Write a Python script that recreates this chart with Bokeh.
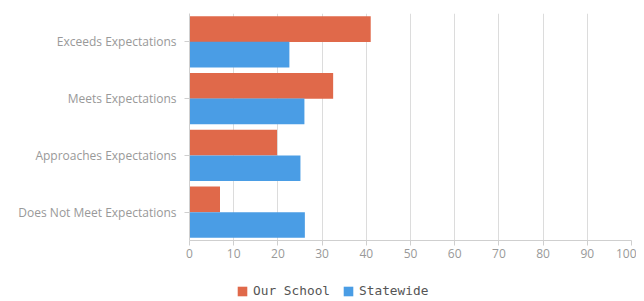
from bokeh.plotting import figure
from bokeh.layouts import column
from bokeh.models import FactorRange, Legend, LegendItem, ColumnDataSource
from bokeh.transform import dodge
from bokeh.embed import file_html
from bokeh.resources import INLINE

categories = ["Exceeds Expectations", "Meets Expectations", "Approaches Expectations", "Does Not Meet Expectations"]
series_names = ["Our School", "Statewide"]
our_school = [41.0, 32.5, 19.8, 6.9]
statewide = [22.6, 26.0, 25.1, 26.1]
x_ticks = [0, 10, 20, 30, 40, 50, 60, 70, 80, 90, 100]
colors = ["#E0694A", "#4A9DE5"]

src = ColumnDataSource(dict(cat=categories, ours=our_school, state=statewide))

p = figure(width=636, height=265, y_range=FactorRange(*list(reversed(categories)), range_padding=0),
           x_range=(0, 100), output_backend="svg", toolbar_location=None,
           min_border_left=189, min_border_right=5, min_border_top=13, min_border_bottom=25)
p.outline_line_color = None

p.hbar(y=dodge("cat", 0.225, range=p.y_range), right="ours", left=0, height=0.45, source=src,
       fill_color=colors[0], line_color=None)
p.hbar(y=dodge("cat", -0.225, range=p.y_range), right="state", left=0, height=0.45, source=src,
       fill_color=colors[1], line_color=None)

p.xaxis.ticker = x_ticks
p.xgrid.grid_line_color = "#dcdcdc"
p.ygrid.grid_line_color = None

for ax in [p.xaxis[0], p.yaxis[0]]:
    ax.axis_line_color = "#cfcfcf"
    ax.major_tick_line_color = "#cfcfcf"
    ax.minor_tick_line_color = None
    ax.major_tick_in = 0
    ax.major_tick_out = 5
    ax.major_label_text_font = "Open Sans"
    ax.major_label_text_font_size = "12px"
    ax.major_label_text_color = "#999999"
p.yaxis.major_label_standoff = 8
p.xaxis.major_label_standoff = 3

# legend strip (proxies share the chart's data, hidden)
lg = figure(width=636, height=33, x_range=(0, 100),
            y_range=FactorRange(*list(reversed(categories))), output_backend="svg",
            toolbar_location=None, min_border=0)
lg.axis.visible = False
lg.grid.visible = False
lg.outline_line_color = None
l1 = lg.hbar(y="cat", right="ours", left=0, height=0.45, source=src, fill_color=colors[0],
             line_color=None, visible=False)
l2 = lg.hbar(y="cat", right="state", left=0, height=0.45, source=src, fill_color=colors[1],
             line_color=None, visible=False)

legend = Legend(items=[LegendItem(label=series_names[0], renderers=[l1]),
                       LegendItem(label=series_names[1], renderers=[l2])],
                orientation="horizontal", location=(47, 0),
                label_text_font="DejaVu Sans Mono", label_text_font_size="12.8px",
                label_text_color="#555555", glyph_width=12, glyph_height=12,
                label_standoff=5, spacing=12, padding=2, margin=0,
                inactive_fill_alpha=0, click_policy="none",
                border_line_color=None, background_fill_alpha=0)
lg.add_layout(legend, "center")

open("out.html", "w").write(file_html(column(p, lg, spacing=0), INLINE))
